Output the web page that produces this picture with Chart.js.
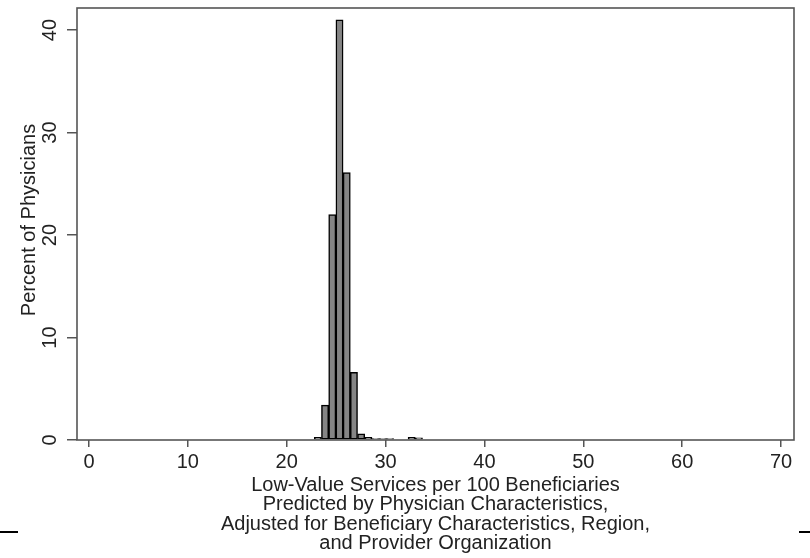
<!DOCTYPE html>
<html>
<head>
<meta charset="utf-8">
<script src="https://cdn.jsdelivr.net/npm/chart.js@4.4.1/dist/chart.umd.min.js"></script>
<style>
body { margin: 0; background: #fff; }
</style>
</head>
<body>
<canvas id="physicianHist" width="810" height="558"></canvas>
<script>
// START DATA

// histogram bins (centre of each bin, width ~0.73)
var binCenters = [23.15, 23.88, 24.61, 25.34, 26.07, 26.80, 27.53, 28.26, 28.99, 29.72, 30.45, 31.18, 31.91, 32.64, 33.37];
var percentPhysicians = [0.25, 3.4, 22.0, 41.0, 26.1, 6.6, 0.6, 0.25, 0.15, 0.15, 0.15, 0, 0, 0.25, 0.2];

var xTickValues = [0, 10, 20, 30, 40, 50, 60, 70];
var yTickValues = [0, 10, 20, 30, 40];

var xTitleLines = [
    "Low-Value Services per 100 Beneficiaries",
    "Predicted by Physician Characteristics,",
    "Adjusted for Beneficiary Characteristics, Region,",
    "and Provider Organization"
];
var yTitle = "Percent of Physicians";

// END DATA

var FONT = '"Liberation Sans", Arial, sans-serif';

// frame, rotated y labels, titles
var stataLook = {
    id: 'stataLook',
    afterDraw: function (chart) {
        var ctx = chart.ctx;
        var area = chart.chartArea;
        var yScale = chart.scales.y;
        ctx.save();

        ctx.strokeStyle = '#555';
        ctx.lineWidth = 1.6;
        ctx.strokeRect(area.left, area.top, area.right - area.left, area.bottom - area.top);

        ctx.fillStyle = '#222';
        ctx.font = '20px ' + FONT;
        ctx.textAlign = 'center';
        ctx.textBaseline = 'middle';
        yScale.ticks.forEach(function (t) {
            ctx.save();
            ctx.translate(50, yScale.getPixelForValue(t.value));
            ctx.rotate(-Math.PI / 2);
            ctx.fillText(t.label, 0, 0);
            ctx.restore();
        });

        ctx.save();
        ctx.translate(29, (area.top + area.bottom) / 2 - 4);
        ctx.rotate(-Math.PI / 2);
        ctx.fillText(yTitle, 0, 0);
        ctx.restore();

        ctx.textBaseline = 'alphabetic';
        var cx = (area.left + area.right) / 2;
        xTitleLines.forEach(function (line, i) {
            ctx.fillText(line, cx, 491 + i * 19.4);
        });

        // little marks left over at the figure edges
        ctx.strokeStyle = '#000';
        ctx.lineWidth = 2;
        ctx.beginPath();
        ctx.moveTo(0, 532); ctx.lineTo(18, 532);
        ctx.moveTo(799, 532); ctx.lineTo(810, 532);
        ctx.stroke();

        ctx.restore();
    }
};

var ctx = document.getElementById('physicianHist').getContext('2d');

var histChart = new Chart(ctx, {
    type: 'bar',
    data: {
        datasets: [{
            label: yTitle,
            data: binCenters.map(function (x, i) { return { x: x, y: percentPhysicians[i] }; }),
            backgroundColor: '#858585',
            borderColor: '#000',
            borderWidth: 1.5,
            borderSkipped: false,
            barPercentage: 1,
            categoryPercentage: 1
        }]
    },
    options: {
        responsive: false,
        animation: false,
        layout: { padding: { top: 8, right: 16, left: 0, bottom: 0 } },
        plugins: {
            legend: { display: false },
            tooltip: { enabled: false }
        },
        scales: {
            x: {
                type: 'linear',
                offset: false,
                min: -1.21,
                max: 71.31,
                border: { display: false },
                grid: { offset: false, drawOnChartArea: false, drawTicks: true, tickLength: 7, color: '#555', lineWidth: 1.5 },
                afterBuildTicks: function (scale) {
                    scale.ticks = xTickValues.map(function (v) { return { value: v }; });
                },
                ticks: {
                    color: '#222',
                    font: { size: 20, family: FONT },
                    padding: 3,
                    maxRotation: 0,
                    autoSkip: false
                },
                afterFit: function (scale) { scale.height = 118; }
            },
            y: {
                min: 0,
                max: 42.15,
                border: { display: false },
                grid: { drawOnChartArea: false, drawTicks: true, tickLength: 10, color: '#555', lineWidth: 1.5 },
                afterBuildTicks: function (scale) {
                    scale.ticks = yTickValues.map(function (v) { return { value: v }; });
                },
                ticks: { display: false },
                afterFit: function (scale) { scale.width = 77; }
            }
        }
    },
    plugins: [stataLook]
});
</script>
</body>
</html>
